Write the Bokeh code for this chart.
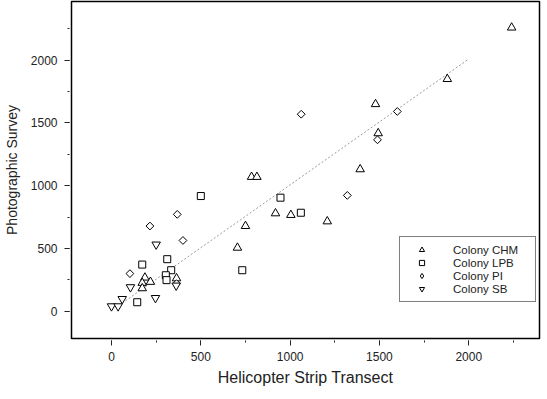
import math
from bokeh.plotting import figure
from bokeh.models import SingleIntervalTicker, Legend, LegendItem, Range1d
from bokeh.embed import file_html
from bokeh.resources import INLINE

# Data
chm_x = [2240, 1880, 1478, 1493, 1392, 784, 814, 918, 1004, 1208, 750, 705, 187, 172, 172, 218, 364]
chm_y = [2260, 1850, 1650, 1418, 1131, 1070, 1070, 780, 767, 716, 679, 506, 268, 226, 183, 234, 262]

lpb_x = [946, 1060, 732, 500, 312, 172, 334, 304, 308, 144]
lpb_y = [905, 785, 327, 918, 415, 372, 327, 287, 248, 72]

pi_x = [1062, 1600, 1489, 1320, 368, 215, 400, 103, 364]
pi_y = [1570, 1592, 1366, 923, 772, 679, 564, 300, 220]

sb_x = [250, 106, 246, 60, 0, 37, 362]
sb_y = [532, 192, 106, 98, 40, 40, 205]

fit_x = [60, 2000]
fit_y = [65, 2010]

labels = ["Colony CHM", "Colony LPB", "Colony PI", "Colony SB"]

FONT = "Liberation Sans"
TXT = "#222222"

p = figure(frame_width=468, frame_height=337, output_backend="svg", toolbar_location=None,
           x_range=Range1d(-224, 2396), y_range=Range1d(-217, 2468),
           min_border_left=68, min_border_right=3, min_border_top=1, min_border_bottom=40)

p.outline_line_color = "black"
p.outline_line_width = 1.5
p.xgrid.visible = False
p.ygrid.visible = False
p.background_fill_color = "white"
p.border_fill_color = "white"

p.line(fit_x, fit_y, line_color="#9a9a9a", line_width=1, line_dash="2 2")

r1 = p.scatter(chm_x, chm_y, marker="triangle", size=8.5, fill_color="white",
               line_color="black", line_width=1)
r2 = p.scatter(lpb_x, lpb_y, marker="square", size=7, fill_color="white",
               line_color="black", line_width=1)
r3 = p.scatter(pi_x, pi_y, marker="square", size=5.5, angle=math.pi / 4,
               fill_color="white", line_color="black", line_width=1)
r4 = p.scatter(sb_x, sb_y, marker="inverted_triangle", size=8.5, fill_color="white",
               line_color="black", line_width=1)
# legend-only glyph for the diamond symbol (its single point lies far outside the ranges)
r3_leg = p.scatter([-100000], [-100000], marker="diamond", size=7, fill_color="white",
                   line_color="black", line_width=1)

for ax in (p.xaxis[0], p.yaxis[0]):
    ax.ticker = SingleIntervalTicker(interval=500, num_minor_ticks=2)
    ax.axis_line_color = None
    ax.major_tick_in = -2
    ax.major_tick_out = 7
    ax.minor_tick_in = -2
    ax.minor_tick_out = 4
    ax.major_tick_line_color = TXT
    ax.minor_tick_line_color = TXT
    ax.major_label_text_font = FONT
    ax.major_label_text_font_size = "12px"
    ax.major_label_text_color = TXT
    ax.axis_label_text_font = FONT
    ax.axis_label_text_font_style = "normal"
    ax.axis_label_text_color = TXT

p.xaxis.axis_label = "Helicopter Strip Transect"
p.yaxis.axis_label = "Photographic Survey"
p.xaxis.axis_label_text_font_size = "16px"
p.yaxis.axis_label_text_font_size = "14px"
p.xaxis.major_label_standoff = 6
p.yaxis.major_label_standoff = 7
p.xaxis.axis_label_standoff = 5
p.yaxis.axis_label_standoff = 8

legend = Legend(items=[LegendItem(label=labels[0], renderers=[r1]),
                       LegendItem(label=labels[1], renderers=[r2]),
                       LegendItem(label=labels[2], renderers=[r3_leg]),
                       LegendItem(label=labels[3], renderers=[r4])],
                location=(328, 36))
legend.border_line_color = "black"
legend.border_line_width = 1
legend.background_fill_alpha = 1
legend.padding = 6
legend.spacing = 0
legend.margin = 0
legend.glyph_width = 31
legend.glyph_height = 13
legend.label_height = 12
legend.label_width = 76
legend.label_standoff = 16
legend.label_text_font = FONT
legend.label_text_font_size = "11.5px"
legend.label_text_color = TXT
p.add_layout(legend)

open("out.html", "w").write(file_html(p, INLINE))
